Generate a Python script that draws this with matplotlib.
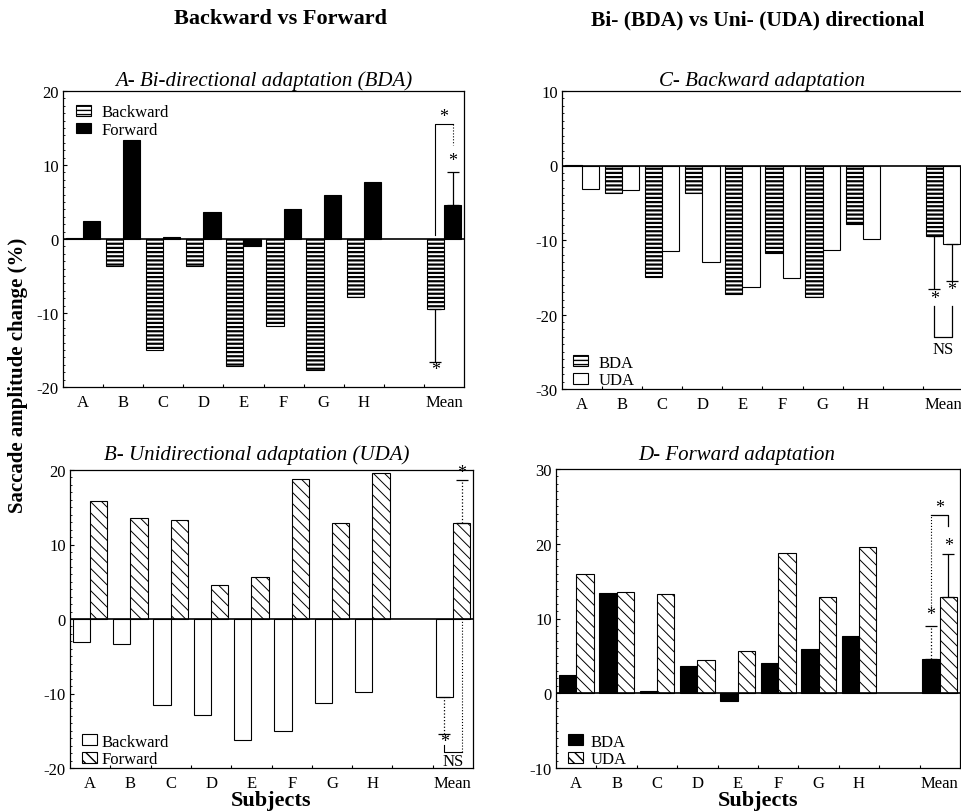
import matplotlib
matplotlib.use("Agg")
import matplotlib.pyplot as plt
from matplotlib.patches import Patch
import numpy as np

plt.rcParams['font.family'] = ['Liberation Serif', 'DejaVu Serif']
plt.rcParams['axes.unicode_minus'] = False

# ---------------- data ----------------
subjects = ["A", "B", "C", "D", "E", "F", "G", "H", "", "Mean"]
slot_pos = [0, 1, 2, 3, 4, 5, 6, 7, 9]          # positions of A..H and Mean
bda_backward = [0.1, -3.7, -15.0, -3.7, -17.2, -11.8, -17.7, -7.9, -9.5]
bda_forward = [2.5, 13.4, 0.3, 3.6, -1.0, 4.1, 5.9, 7.7, 4.6]
uda_backward = [-3.1, -3.3, -11.5, -12.9, -16.3, -15.1, -11.3, -9.8, -10.5]
uda_forward = [15.9, 13.6, 13.3, 4.5, 5.6, 18.8, 12.9, 19.6, 12.9]
# error bar extents (SD) for the means
bda_backward_sd = 7.1
bda_forward_sd = 4.4
uda_backward_sd = 5.0
uda_forward_sd = 5.7

W = 0.43
HL_H = 1.6    # hatch linewidth for horizontal stripes
HL_D = 0.7    # hatch linewidth for diagonal lines
TICK_FS = 12

fig = plt.figure(figsize=(9.62, 8.12), dpi=100)

def px_axes(l, t, r, b):
    return fig.add_axes([l / 962, 1 - b / 812, (r - l) / 962, (b - t) / 812])

axA = px_axes(63, 92, 464, 388)
axC = px_axes(562, 92, 963, 390)
axB = px_axes(70, 471, 473, 769)
axD = px_axes(556, 470, 960, 769)


def style(kind):
    if kind == "stripe":
        return dict(facecolor="white", edgecolor="black", hatch="----", linewidth=0.8), HL_H
    if kind == "black":
        return dict(facecolor="black", edgecolor="black", linewidth=0.8), HL_D
    if kind == "white":
        return dict(facecolor="white", edgecolor="black", linewidth=0.8), HL_D
    if kind == "diag":
        return dict(facecolor="white", edgecolor="black", hatch="\\\\\\", linewidth=0.8), HL_D


def draw_bars(ax, values, offset, kind):
    kw, hl = style(kind)
    with plt.rc_context({"hatch.linewidth": hl}):
        bars = ax.bar(np.array(slot_pos) + offset, values, width=W, **kw)
    for b in bars:
        try:
            b.set_hatch_linewidth(hl)
        except AttributeError:
            pass
    return bars


def legend_handle(kind, label):
    kw, hl = style(kind)
    with plt.rc_context({"hatch.linewidth": hl}):
        p = Patch(label=label, **kw)
    try:
        p.set_hatch_linewidth(hl)
    except AttributeError:
        pass
    return p


def setup(ax, ylim):
    ax.set_xlim(-0.5, 9.5)
    ax.set_ylim(*ylim)
    ax.axhline(0, color="black", lw=1.2, zorder=3)
    ax.set_xticks(range(10))
    ax.set_xticklabels(subjects, fontsize=TICK_FS)
    ax.set_xticks(np.arange(0.5, 9.5, 1.0), minor=True)
    ax.tick_params(axis="x", which="major", length=0, pad=5)
    ax.tick_params(axis="x", which="minor", direction="in", length=2.5, width=0.8)
    ax.set_yticks(np.arange(ylim[0], ylim[1] + 1, 10))
    ax.set_yticks(np.arange(ylim[0], ylim[1] + 1, 1), minor=True)
    ax.tick_params(axis="y", which="major", direction="in", length=3, labelsize=TICK_FS, pad=3)
    ax.tick_params(axis="y", which="minor", direction="in", length=1.5, width=0.6)
    for s in ax.spines.values():
        s.set_linewidth(0.9)


def err(ax, x, y, sd, up, ls="-"):
    yerr = [[0], [sd]] if up else [[sd], [0]]
    e = ax.errorbar([x], [y], yerr=yerr, fmt="none", ecolor="black", elinewidth=0.9,
                    capsize=4, capthick=0.9, zorder=4)
    if ls != "-":
        e[2][0].set_linestyle(ls)


def star(ax, x, y):
    ax.text(x, y, "*", ha="center", va="center", fontsize=13)


LEG = dict(frameon=False, fontsize=TICK_FS, handlelength=0.9, handleheight=0.6,
           labelspacing=0.1)
LOW = dict(loc="lower left", borderaxespad=0.0, bbox_to_anchor=(0.012, -0.02))

xm = slot_pos[-1]
xl, xr = xm - W / 2, xm + W / 2

# ---------------- Panel A ----------------
setup(axA, (-20, 20))
draw_bars(axA, bda_backward, -W / 2, "stripe")
draw_bars(axA, bda_forward, W / 2, "black")
err(axA, xl, bda_backward[-1], bda_backward_sd, up=False)
err(axA, xr, bda_forward[-1], bda_forward_sd, up=True)
star(axA, xl, bda_backward[-1] - bda_backward_sd - 1.0)
star(axA, xr, bda_forward[-1] + bda_forward_sd + 1.6)
axA.plot([xl, xl, xr], [0.6, 15.5, 15.5], color="black", lw=0.8)
axA.plot([xr, xr], [15.5, 12.7], color="black", lw=0.8, ls=":")
star(axA, xm, 16.5)
axA.legend(handles=[legend_handle("stripe", "Backward"), legend_handle("black", "Forward")],
           loc="upper left", handletextpad=0.6, borderaxespad=0.4, **LEG)
axA.set_title("A- Bi-directional adaptation (BDA)", fontsize=15, style="italic", pad=4)

# ---------------- Panel C ----------------
setup(axC, (-30, 10))
axC.spines["right"].set_visible(False)
draw_bars(axC, bda_backward, -W / 2, "stripe")
draw_bars(axC, uda_backward, W / 2, "white")
err(axC, xl, bda_backward[-1], bda_backward_sd, up=False)
err(axC, xr, uda_backward[-1], uda_backward_sd, up=False)
star(axC, xl, bda_backward[-1] - bda_backward_sd - 1.2)
star(axC, xr, uda_backward[-1] - uda_backward_sd - 1.2)
axC.plot([xl, xl, xr, xr], [-18.8, -23.0, -23.0, -18.8], color="black", lw=0.9)
axC.text(xm, -24.6, "NS", ha="center", va="center", fontsize=TICK_FS)
axC.legend(handles=[legend_handle("stripe", "BDA"), legend_handle("white", "UDA")],
           handletextpad=0.6, **LOW, **LEG)
axC.set_title("C- Backward adaptation", fontsize=15, style="italic", pad=4)

# ---------------- Panel B ----------------
setup(axB, (-20, 20))
draw_bars(axB, uda_backward, -W / 2, "white")
draw_bars(axB, uda_forward, W / 2, "diag")
err(axB, xl, uda_backward[-1], uda_backward_sd, up=False, ls=":")
err(axB, xr, uda_forward[-1], uda_forward_sd, up=True, ls=":")
star(axB, xl, uda_backward[-1] - uda_backward_sd - 0.9)
star(axB, xr, uda_forward[-1] + uda_forward_sd + 1.0)
axB.plot([xl, xl, xr], [-16.9, -17.8, -17.8], color="black", lw=0.8)
axB.plot([xr, xr], [-17.8, 0], color="black", lw=0.8, ls=":")
axB.text(xm, -19.1, "NS", ha="center", va="center", fontsize=TICK_FS)
axB.legend(handles=[legend_handle("white", "Backward"), legend_handle("diag", "Forward")],
           handletextpad=0.3, **LOW, **LEG)
axB.text(0.464, 1.053, "B- Unidirectional adaptation (UDA)", transform=axB.transAxes,
         ha="center", va="center", fontsize=15, style="italic")
axB.set_xlabel("Subjects", fontsize=16, fontweight="bold", labelpad=-1)

# ---------------- Panel D ----------------
setup(axD, (-10, 30))
draw_bars(axD, bda_forward, -W / 2, "black")
draw_bars(axD, uda_forward, W / 2, "diag")
err(axD, xl, bda_forward[-1], bda_forward_sd, up=True, ls=":")
err(axD, xr, uda_forward[-1], uda_forward_sd, up=True)
star(axD, xl, bda_forward[-1] + bda_forward_sd + 1.5)
star(axD, xr, uda_forward[-1] + uda_forward_sd + 1.1)
axD.plot([xl, xl], [11.7, 23.9], color="black", lw=0.8, ls=":")
axD.plot([xl, xr, xr], [23.9, 23.9, 22.4], color="black", lw=0.9)
star(axD, xm, 24.8)
axD.legend(handles=[legend_handle("black", "BDA"), legend_handle("diag", "UDA")],
           handletextpad=0.5, **LOW, **LEG)
axD.text(0.448, 1.05, "D- Forward adaptation", transform=axD.transAxes,
         ha="center", va="center", fontsize=15, style="italic")
axD.set_xlabel("Subjects", fontsize=16, fontweight="bold", labelpad=-1)

# ---------------- figure texts ----------------
fig.text(280 / 962, 1 - 19 / 812, "Backward vs Forward", ha="center", va="center",
         fontsize=16, fontweight="bold")
fig.text(758 / 962, 1 - 20 / 812, "Bi- (BDA) vs Uni- (UDA) directional", ha="center",
         va="center", fontsize=15.5, fontweight="bold")
fig.text(18 / 962, 1 - 375 / 812, "Saccade amplitude change (%)", ha="center", va="center",
         rotation=90, fontsize=15, fontweight="bold")

fig.savefig("out.png", dpi=100)
